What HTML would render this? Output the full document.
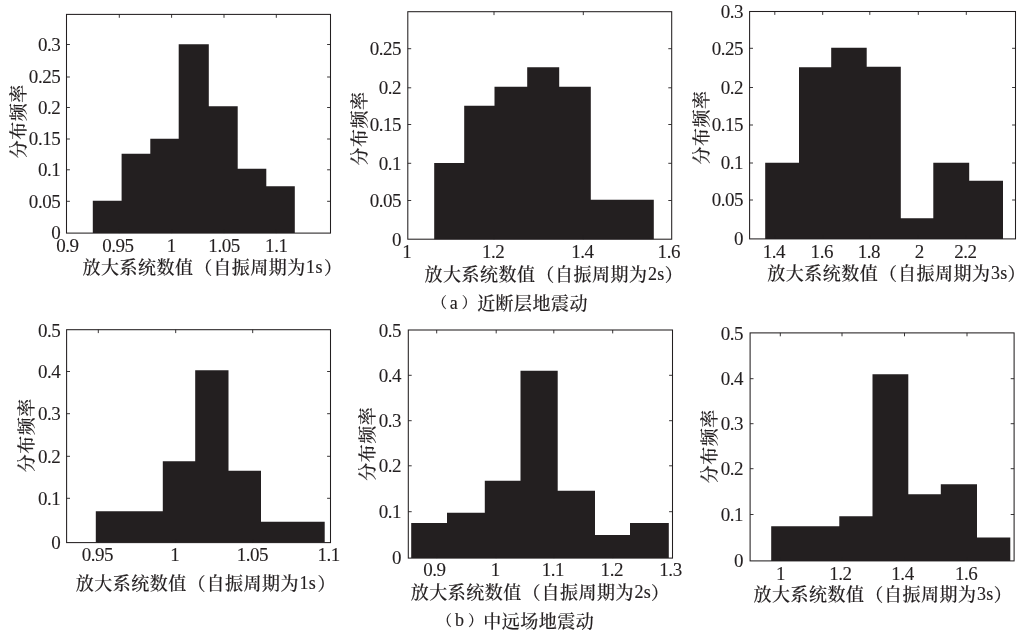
<!DOCTYPE html>
<html lang="zh-CN">
<head>
<meta charset="utf-8">
<title>放大系数分布频率</title>
<style>
html,body{margin:0;padding:0;background:#fff;}
body{width:1026px;height:637px;overflow:hidden;}
svg{display:block;}
text{fill:#231f20;stroke:#231f20;stroke-width:0.15px;}
.n{stroke-width:0.1px;}
.n{font-family:"Liberation Serif","Noto Serif CJK SC",serif;font-size:19px;letter-spacing:-0.45px;}
.c{font-family:"Liberation Serif","Noto Serif CJK SC",serif;font-size:18px;letter-spacing:0.5px;font-weight:500;}
.q{font-size:15px;}
.l{font-size:18px;letter-spacing:0.3px;font-weight:400;}
</style>
</head>
<body>
<svg width="1026" height="637" viewBox="0 0 1026 637">
<rect width="1026" height="637" fill="#fff"/>
<g><path d="M92.80 233.10V200.80H121.60V153.70H150.30V138.80H178.70V44.20H208.80V106.30H237.70V168.80H266.30V186.20H294.80V233.10Z" fill="#231f20"/>
<rect x="66.50" y="14.40" width="264.00" height="218.70" fill="none" stroke="#231f20" stroke-width="1.05"/>
<path d="M119.30 14.40v3.4M119.30 233.10v-3.4M171.60 14.40v3.4M171.60 233.10v-3.4M224.00 14.40v3.4M224.00 233.10v-3.4M276.30 14.40v3.4M276.30 233.10v-3.4M66.50 201.30h3.4M330.50 201.30h-3.4M66.50 169.80h3.4M330.50 169.80h-3.4M66.50 139.00h3.4M330.50 139.00h-3.4M66.50 107.50h3.4M330.50 107.50h-3.4M66.50 77.00h3.4M330.50 77.00h-3.4M66.50 44.50h3.4M330.50 44.50h-3.4" stroke="#231f20" stroke-width="0.9" fill="none"/>
<text class="n" x="67.40" y="251.90" text-anchor="middle">0.9</text>
<text class="n" x="117.90" y="251.90" text-anchor="middle">0.95</text>
<text class="n" x="171.40" y="251.90" text-anchor="middle">1</text>
<text class="n" x="224.10" y="251.90" text-anchor="middle">1.05</text>
<text class="n" x="276.30" y="251.90" text-anchor="middle">1.1</text>
<text class="n" x="60.30" y="239.40" text-anchor="end">0</text>
<text class="n" x="60.30" y="207.60" text-anchor="end">0.05</text>
<text class="n" x="60.30" y="176.10" text-anchor="end">0.1</text>
<text class="n" x="60.30" y="145.30" text-anchor="end">0.15</text>
<text class="n" x="60.30" y="113.80" text-anchor="end">0.2</text>
<text class="n" x="60.30" y="83.30" text-anchor="end">0.25</text>
<text class="n" x="60.30" y="50.80" text-anchor="end">0.3</text>
<text class="c" x="82.50" y="273.50">放大系统数值<tspan dx="0.8">（</tspan><tspan dx="0.4">自振周期为</tspan><tspan class="l" dx="0.4" dy="-1">1s</tspan><tspan dx="1.4" dy="1">）</tspan></text>
<text class="c" transform="translate(24.50 121.20) rotate(-90)" text-anchor="middle">分布频率</text></g>
<g><path d="M434.20 239.20V163.00H464.20V105.80H494.50V86.80H527.20V67.20H559.20V86.80H590.80V199.70H622.30V199.70H653.80V239.20Z" fill="#231f20"/>
<rect x="407.80" y="11.70" width="263.90" height="227.50" fill="none" stroke="#231f20" stroke-width="1.05"/>
<path d="M494.00 11.70v3.4M494.00 239.20v-3.4M583.30 11.70v3.4M583.30 239.20v-3.4M407.80 200.50h3.4M671.70 200.50h-3.4M407.80 163.30h3.4M671.70 163.30h-3.4M407.80 124.50h3.4M671.70 124.50h-3.4M407.80 87.80h3.4M671.70 87.80h-3.4M407.80 48.70h3.4M671.70 48.70h-3.4" stroke="#231f20" stroke-width="0.9" fill="none"/>
<text class="n" x="406.90" y="257.80" text-anchor="middle">1</text>
<text class="n" x="493.10" y="257.80" text-anchor="middle">1.2</text>
<text class="n" x="582.40" y="257.80" text-anchor="middle">1.4</text>
<text class="n" x="668.80" y="257.80" text-anchor="middle">1.6</text>
<text class="n" x="401.10" y="245.50" text-anchor="end">0</text>
<text class="n" x="401.10" y="206.80" text-anchor="end">0.05</text>
<text class="n" x="401.10" y="169.60" text-anchor="end">0.1</text>
<text class="n" x="401.10" y="130.80" text-anchor="end">0.15</text>
<text class="n" x="401.10" y="94.10" text-anchor="end">0.2</text>
<text class="n" x="401.10" y="55.00" text-anchor="end">0.25</text>
<text class="c" x="424.40" y="280.80">放大系统数值<tspan dx="0.8">（</tspan><tspan dx="0.4">自振周期为</tspan><tspan class="l" dx="0.4" dy="-1">2s</tspan><tspan dx="0.09999999999999987" dy="1">）</tspan></text>
<text class="c" transform="translate(365.50 128.50) rotate(-90)" text-anchor="middle">分布频率</text></g>
<g><path d="M765.20 238.90V162.80H799.00V67.20H831.20V47.80H866.70V66.70H900.80V218.30H933.30V162.80H969.20V180.80H1003.00V238.90Z" fill="#231f20"/>
<rect x="749.60" y="11.50" width="265.90" height="227.40" fill="none" stroke="#231f20" stroke-width="1.05"/>
<path d="M774.80 11.50v3.4M774.80 238.90v-3.4M822.70 11.50v3.4M822.70 238.90v-3.4M869.80 11.50v3.4M869.80 238.90v-3.4M918.30 11.50v3.4M918.30 238.90v-3.4M966.30 11.50v3.4M966.30 238.90v-3.4M749.60 200.00h3.4M1015.50 200.00h-3.4M749.60 163.00h3.4M1015.50 163.00h-3.4M749.60 125.00h3.4M1015.50 125.00h-3.4M749.60 87.50h3.4M1015.50 87.50h-3.4M749.60 48.30h3.4M1015.50 48.30h-3.4" stroke="#231f20" stroke-width="0.9" fill="none"/>
<text class="n" x="773.90" y="257.70" text-anchor="middle">1.4</text>
<text class="n" x="821.80" y="257.70" text-anchor="middle">1.6</text>
<text class="n" x="868.90" y="257.70" text-anchor="middle">1.8</text>
<text class="n" x="919.40" y="257.70" text-anchor="middle">2</text>
<text class="n" x="965.40" y="257.70" text-anchor="middle">2.2</text>
<text class="n" x="743.10" y="245.20" text-anchor="end">0</text>
<text class="n" x="743.10" y="206.30" text-anchor="end">0.05</text>
<text class="n" x="743.10" y="169.30" text-anchor="end">0.1</text>
<text class="n" x="743.10" y="131.30" text-anchor="end">0.15</text>
<text class="n" x="743.10" y="93.80" text-anchor="end">0.2</text>
<text class="n" x="743.10" y="54.60" text-anchor="end">0.25</text>
<text class="n" x="743.10" y="18.30" text-anchor="end">0.3</text>
<text class="c" x="767.30" y="280.00">放大系统数值<tspan dx="0.8">（</tspan><tspan dx="0.4">自振周期为</tspan><tspan class="l" dx="0.4" dy="-1">3s</tspan><tspan dx="0.09999999999999987" dy="1">）</tspan></text>
<text class="c" transform="translate(707.50 127.60) rotate(-90)" text-anchor="middle">分布频率</text></g>
<g><path d="M95.80 542.60V511.30H129.30V511.30H162.80V461.20H195.20V370.30H228.50V470.80H261.00V521.70H292.90V521.70H324.70V542.60Z" fill="#231f20"/>
<rect x="66.60" y="329.70" width="263.90" height="212.90" fill="none" stroke="#231f20" stroke-width="1.05"/>
<path d="M98.30 329.70v3.4M98.30 542.60v-3.4M175.70 329.70v3.4M175.70 542.60v-3.4M252.70 329.70v3.4M252.70 542.60v-3.4M66.60 498.30h3.4M330.50 498.30h-3.4M66.60 456.30h3.4M330.50 456.30h-3.4M66.60 413.70h3.4M330.50 413.70h-3.4M66.60 371.50h3.4M330.50 371.50h-3.4" stroke="#231f20" stroke-width="0.9" fill="none"/>
<text class="n" x="97.40" y="561.00" text-anchor="middle">0.95</text>
<text class="n" x="174.80" y="561.00" text-anchor="middle">1</text>
<text class="n" x="252.40" y="561.00" text-anchor="middle">1.05</text>
<text class="n" x="328.70" y="561.00" text-anchor="middle">1.1</text>
<text class="n" x="60.30" y="548.90" text-anchor="end">0</text>
<text class="n" x="60.30" y="504.60" text-anchor="end">0.1</text>
<text class="n" x="60.30" y="462.60" text-anchor="end">0.2</text>
<text class="n" x="60.30" y="420.00" text-anchor="end">0.3</text>
<text class="n" x="60.30" y="377.80" text-anchor="end">0.4</text>
<text class="n" x="60.30" y="336.50" text-anchor="end">0.5</text>
<text class="c" x="75.80" y="590.30">放大系统数值<tspan dx="0.8">（</tspan><tspan dx="0.4">自振周期为</tspan><tspan class="l" dx="0.4" dy="-1">1s</tspan><tspan dx="1.4" dy="1">）</tspan></text>
<text class="c" transform="translate(32.90 435.30) rotate(-90)" text-anchor="middle">分布频率</text></g>
<g><path d="M411.20 558.10V523.00H447.00V512.80H484.80V480.80H520.50V370.80H557.70V490.80H595.00V535.00H630.00V523.00H668.80V558.10Z" fill="#231f20"/>
<rect x="408.30" y="330.00" width="264.20" height="228.10" fill="none" stroke="#231f20" stroke-width="1.05"/>
<path d="M436.70 330.00v3.4M436.70 558.10v-3.4M496.20 330.00v3.4M496.20 558.10v-3.4M553.80 330.00v3.4M553.80 558.10v-3.4M612.70 330.00v3.4M612.70 558.10v-3.4M408.30 511.70h3.4M672.50 511.70h-3.4M408.30 465.80h3.4M672.50 465.80h-3.4M408.30 420.70h3.4M672.50 420.70h-3.4M408.30 375.30h3.4M672.50 375.30h-3.4" stroke="#231f20" stroke-width="0.9" fill="none"/>
<text class="n" x="434.40" y="576.20" text-anchor="middle">0.9</text>
<text class="n" x="495.30" y="576.20" text-anchor="middle">1</text>
<text class="n" x="552.90" y="576.20" text-anchor="middle">1.1</text>
<text class="n" x="611.80" y="576.20" text-anchor="middle">1.2</text>
<text class="n" x="670.50" y="576.20" text-anchor="middle">1.3</text>
<text class="n" x="401.10" y="564.40" text-anchor="end">0</text>
<text class="n" x="401.10" y="518.00" text-anchor="end">0.1</text>
<text class="n" x="401.10" y="472.10" text-anchor="end">0.2</text>
<text class="n" x="401.10" y="427.00" text-anchor="end">0.3</text>
<text class="n" x="401.10" y="381.60" text-anchor="end">0.4</text>
<text class="n" x="401.10" y="336.80" text-anchor="end">0.5</text>
<text class="c" x="410.80" y="598.50">放大系统数值<tspan dx="0.8">（</tspan><tspan dx="0.4">自振周期为</tspan><tspan class="l" dx="0.4" dy="-1">2s</tspan><tspan dx="0.09999999999999987" dy="1">）</tspan></text>
<text class="c" transform="translate(374.20 443.70) rotate(-90)" text-anchor="middle">分布频率</text></g>
<g><path d="M771.20 560.90V526.20H805.30V526.20H839.30V516.20H872.50V374.20H908.30V494.20H940.80V484.20H977.00V537.50H1010.30V560.90Z" fill="#231f20"/>
<rect x="750.10" y="332.90" width="264.00" height="228.00" fill="none" stroke="#231f20" stroke-width="1.05"/>
<path d="M780.30 332.90v3.4M780.30 560.90v-3.4M842.00 332.90v3.4M842.00 560.90v-3.4M904.50 332.90v3.4M904.50 560.90v-3.4M967.00 332.90v3.4M967.00 560.90v-3.4M750.10 514.50h3.4M1014.10 514.50h-3.4M750.10 468.70h3.4M1014.10 468.70h-3.4M750.10 423.70h3.4M1014.10 423.70h-3.4M750.10 378.70h3.4M1014.10 378.70h-3.4" stroke="#231f20" stroke-width="0.9" fill="none"/>
<text class="n" x="780.60" y="579.70" text-anchor="middle">1</text>
<text class="n" x="840.40" y="579.70" text-anchor="middle">1.2</text>
<text class="n" x="902.50" y="579.70" text-anchor="middle">1.4</text>
<text class="n" x="966.10" y="579.70" text-anchor="middle">1.6</text>
<text class="n" x="743.10" y="567.20" text-anchor="end">0</text>
<text class="n" x="743.10" y="520.80" text-anchor="end">0.1</text>
<text class="n" x="743.10" y="475.00" text-anchor="end">0.2</text>
<text class="n" x="743.10" y="430.00" text-anchor="end">0.3</text>
<text class="n" x="743.10" y="385.00" text-anchor="end">0.4</text>
<text class="n" x="743.10" y="339.60" text-anchor="end">0.5</text>
<text class="c" x="753.40" y="600.70">放大系统数值<tspan dx="0.8">（</tspan><tspan dx="0.4">自振周期为</tspan><tspan class="l" dx="0.4" dy="-1">3s</tspan><tspan dx="0.09999999999999987" dy="1">）</tspan></text>
<text class="c" transform="translate(716.20 446.30) rotate(-90)" text-anchor="middle">分布频率</text></g>
<text class="c" x="431.90" y="308.20"><tspan class="q">（</tspan><tspan class="l" dx="2.3" dy="0.6">a</tspan><tspan class="q" dx="3.7" dy="-0.6">）</tspan><tspan dx="-0.10000000000000009" dy="1.8">近断层地震动</tspan></text>
<text class="c" x="437.10" y="625.80"><tspan class="q">（</tspan><tspan class="l" dx="2.3" dy="0.6">b</tspan><tspan class="q" dx="3.7" dy="-0.6">）</tspan><tspan dx="-0.10000000000000009" dy="1.8">中远场地震动</tspan></text>
</svg>
</body>
</html>
